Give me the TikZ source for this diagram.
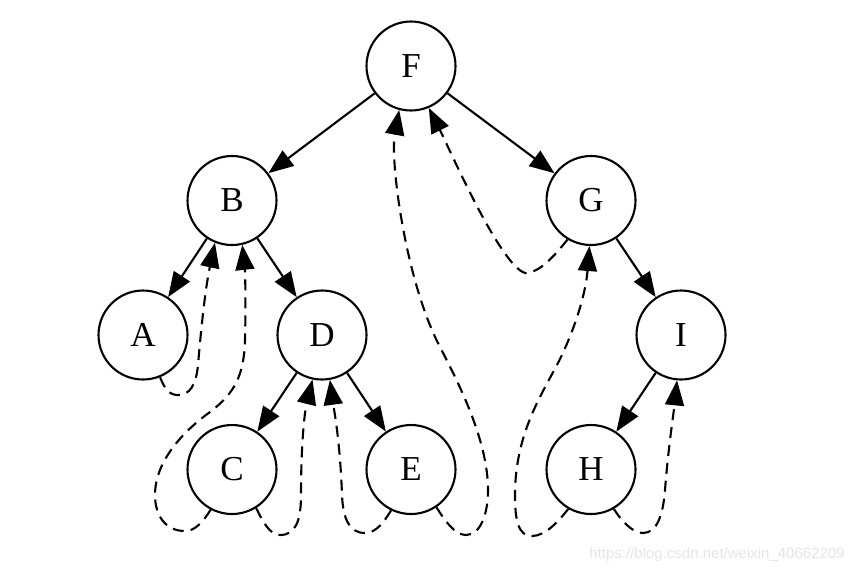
\documentclass[tikz,border=0pt]{standalone}
\usepackage{fontspec}
\setmainfont{Liberation Serif}
\newfontfamily\wmfont{Liberation Sans}
\usetikzlibrary{arrows.meta}
\begin{document}
\begin{tikzpicture}[x=0.5pt,y=-0.5pt,
  vtx/.style={circle,draw,line width=1.05pt,minimum size=44.5pt,inner sep=0pt,font=\fontsize{17.5}{20}\selectfont},
  tree/.style={line width=1.05pt,-{Triangle[length=12.5pt,width=9.5pt]}},
  thread/.style={line width=1.05pt,dash pattern=on 5.5pt off 3.5pt,-{Triangle[length=12.5pt,width=9.5pt]}}]
\useasboundingbox (0,0) rectangle (854,574);
\node[vtx] (F) at (411,66) {F};
\node[vtx] (B) at (232,200.5) {B};
\node[vtx] (G) at (591,200.5) {G};
\node[vtx] (A) at (143,335) {A};
\node[vtx] (D) at (322,335) {D};
\node[vtx] (I) at (681,335) {I};
\node[vtx] (C) at (232,469.5) {C};
\node[vtx] (E) at (411,469.5) {E};
\node[vtx] (H) at (591,469.5) {H};
% tree edges
\draw[tree] (F) -- (B);
\draw[tree] (F) -- (G);
\draw[tree] (B) -- (A);
\draw[tree] (B) -- (D);
\draw[tree] (D) -- (C);
\draw[tree] (D) -- (E);
\draw[tree] (G) -- (I);
\draw[tree] (I) -- (H);
% threads
\draw[thread] (A.-68) .. controls (165,390) and (170,395) .. (178,395)
  .. controls (190,395) and (196,385) .. (198,365)
  .. controls (201,330) and (205,290) .. (B.-112);
\draw[thread] (C.-118) .. controls (203,522) and (195,531) .. (185,531)
  .. controls (165,531) and (155,515) .. (155,495)
  .. controls (155,460) and (185,430) .. (210,412)
  .. controls (235,393) and (244,375) .. (245,340)
  .. controls (246,300) and (245,270) .. (B.-77);
\draw[thread] (C.-58) .. controls (263,522) and (270,535) .. (280,535)
  .. controls (295,535) and (301,522) .. (301,495)
  .. controls (301,440) and (305,410) .. (D.-102);
\draw[thread] (E.-116) .. controls (384,522) and (376,533) .. (365,533)
  .. controls (350,533) and (343,520) .. (342,495)
  .. controls (340,440) and (334,410) .. (D.-80);
\draw[thread] (E.-56) .. controls (445,521) and (455,535) .. (466,535)
  .. controls (480,535) and (488,515) .. (488,490)
  .. controls (488,440) and (458,382) .. (440,347)
  .. controls (405,280) and (390,160) .. (F.-105);
\draw[thread] (G.-121) .. controls (555,255) and (540,273) .. (525,273)
  .. controls (500,265) and (450,150) .. (F.-67);
\draw[thread] (H.-120) .. controls (558,522) and (545,536) .. (532,536)
  .. controls (518,536) and (515,520) .. (515,495)
  .. controls (515,430) and (545,390) .. (562,355)
  .. controls (578,320) and (586,290) .. (G.-92);
\draw[thread] (H.-60) .. controls (621,520) and (632,533) .. (643,533)
  .. controls (657,533) and (663,515) .. (665,490)
  .. controls (668,450) and (674,410) .. (I.-95);
\node[font=\wmfont\fontsize{7.5}{9}\selectfont,text=black!10,anchor=east,inner sep=0pt] (wm) at (845,555) {https://blog.csdn.net/weixin\_40662209};
\end{tikzpicture}
\end{document}
